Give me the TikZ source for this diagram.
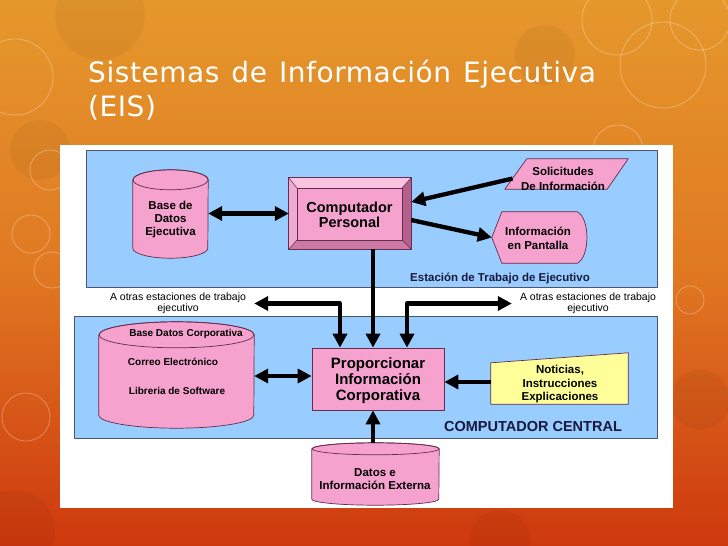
\documentclass[tikz,border=0pt]{standalone}
\usepackage{fontspec}
\setmainfont{Liberation Sans}
\newfontfamily\titlefont[LetterSpace=2]{DejaVu Sans}
\newcommand\titlesetup{\titlefont\fontsize{28}{32}\selectfont\spaceskip 12pt\relax}
\usetikzlibrary{arrows.meta,calc}
\definecolor{bgtop}{RGB}{229,152,44}
\definecolor{bgmid}{RGB}{224,120,34}
\definecolor{bgbot}{RGB}{206,56,14}
\definecolor{bluebox}{RGB}{153,204,255}
\definecolor{boxline}{RGB}{75,85,110}
\definecolor{pinkf}{RGB}{246,162,207}
\definecolor{pinkline}{RGB}{100,45,75}
\definecolor{pinklight}{RGB}{250,196,224}
\definecolor{pinkmid}{RGB}{240,170,210}
\definecolor{pinkdark}{RGB}{205,120,165}
\definecolor{pinkdarker}{RGB}{180,95,140}
\definecolor{yellowf}{RGB}{255,255,153}
\definecolor{navy}{RGB}{25,25,60}
\tikzset{
  tip/.tip={Triangle[length=14pt,width=14pt]},
  bigarrow/.style={line width=4.3pt,-tip},
  dblarrow/.style={line width=4.3pt,tip-tip},
  region/.style={draw=boxline,fill=bluebox,line width=0.8pt,inner sep=0pt},
  pinkshape/.style={draw=pinkline,fill=pinkf,line width=0.7pt},
  lbl/.style={align=center,inner sep=0pt,font=\bfseries\fontsize{11.5}{13.5}\selectfont},
  biglbl/.style={align=center,inner sep=0pt,font=\bfseries\fontsize{14.5}{16}\selectfont},
  smalllbl/.style={align=center,inner sep=0pt,font=\fontsize{10.5}{11.5}\selectfont},
  cyllbl/.style={inner sep=0pt,font=\bfseries\fontsize{10}{12}\selectfont},
  ghost/.style={inner sep=0pt,draw=none},
  ring/.style={draw=white,opacity=0.3,line width=0.8pt},
  blob/.style={fill=black,opacity=0.045},
  titletext/.style={anchor=base west,text=white,inner sep=0pt,font=\titlesetup},
}
\begin{document}
\begin{tikzpicture}[x=1pt,y=-1pt,line join=round]
\useasboundingbox (0,0) rectangle (728,546);
% background
\shade[top color=bgtop,bottom color=bgbot,middle color=bgmid] (0,0) rectangle (728,546);
\fill[blob] (100,15) circle[radius=45];
\fill[blob] (545,55) circle[radius=30];
\fill[blob] (40,150) circle[radius=30];
\fill[blob] (15,530) circle[radius=40];
\fill[blob] (500,540) circle[radius=30];
\fill[blob] (700,400) circle[radius=30];
\draw[ring] (15,77) circle[radius=38];
\draw[ring] (663,65) circle[radius=43];
\draw[ring] (618,150) circle[radius=25];
\draw[ring] (617,20) circle[radius=35];
\draw[ring] (700,20) circle[radius=30];
\draw[ring] (50,170) circle[radius=20];
\draw[ring] (31,234) circle[radius=19];
\draw[ring] (52,270) circle[radius=18];
\draw[ring] (26,417) circle[radius=24];
\draw[ring] (690,300) circle[radius=14];
% title
\node[titletext] (title1) at (88,82) {Sistemas de Información Ejecutiva};
\node[titletext] (title2) at (88,116) {(EIS)};
% panel and regions
\node[fill=white,inner sep=0pt,minimum width=613,minimum height=363,anchor=north west] (panel) at (60,145) {};
\node[region,minimum width=571,minimum height=137] (ws) at (371.5,218.5) {};
\node[region,minimum width=583,minimum height=122] (cc) at (365.5,377) {};
% cylinder: base de datos ejecutiva
\node[ghost,minimum width=75,minimum height=88] (bde) at (170.5,214) {};
\filldraw[pinkshape] ($(bde.north west)+(0,10)$) -- ($(bde.south west)+(0,-10)$)
  arc[start angle=180,end angle=0,x radius=37.5,y radius=10]
  -- ($(bde.north east)+(0,10)$)
  arc[start angle=0,end angle=-180,x radius=37.5,y radius=10] -- cycle;
\draw[pinkline,line width=0.7pt] ($(bde.north)+(0,10)$) ellipse[x radius=37.5,y radius=10];
\node[lbl,font=\bfseries\fontsize{11.5}{13}\selectfont] (bdet) at (170.5,220) {Base de\\Datos\\Ejecutiva};
% computador personal (bevelled)
\node[ghost,minimum width=122,minimum height=71] (cp) at (350,213.5) {};
\coordinate (ia) at ($(cp.north west)+(8,10)$);
\coordinate (ib) at ($(cp.north east)+(-9,10)$);
\coordinate (ic) at ($(cp.south east)+(-9,-9)$);
\coordinate (id) at ($(cp.south west)+(8,-9)$);
\fill[pinklight] (cp.north west) -- (cp.north east) -- (ib) -- (ia) -- cycle;
\fill[pinkmid] (cp.north west) -- (ia) -- (id) -- (cp.south west) -- cycle;
\fill[pinkdark] (cp.south west) -- (id) -- (ic) -- (cp.south east) -- cycle;
\fill[pinkdarker] (cp.north east) -- (ib) -- (ic) -- (cp.south east) -- cycle;
\fill[pinkf] (ia) rectangle (ic);
\draw[pinkline,line width=0.7pt] (cp.north west) rectangle (cp.south east);
\draw[pinkline,line width=0.5pt] (ia) rectangle (ic);
\draw[pinkline,line width=0.5pt] (cp.north west) -- (ia) (cp.north east) -- (ib) (cp.south east) -- (ic) (cp.south west) -- (id);
\node[biglbl,font=\bfseries\fontsize{14.5}{15.5}\selectfont] (cpt) at (349.5,215) {Computador\\Personal};
% solicitudes
\node[ghost,minimum width=123,minimum height=30] (sol) at (566.5,174) {};
\filldraw[pinkshape] (sol.south west) -- ($(sol.south east)+(-21,0)$) -- (sol.north east) -- ($(sol.north west)+(22,0)$) -- cycle;
\node[lbl,font=\bfseries\fontsize{11.5}{14.5}\selectfont] (solt) at (563,179) {Solicitudes\\De Información};
% informacion en pantalla
\node[ghost,minimum width=95,minimum height=51] (pan) at (539.5,237.5) {};
\filldraw[pinkshape] (pan.west) -- ($(pan.north west)+(10,0)$) -- ($(pan.north east)+(-10,0)$)
  .. controls ($(pan.north east)+(3,6)$) and ($(pan.south east)+(3,-6)$) .. ($(pan.south east)+(-10,0)$)
  -- ($(pan.south west)+(10,0)$) -- cycle;
\node[lbl,font=\bfseries\fontsize{11.5}{14}\selectfont] (pant) at (538,238) {Información\\en Pantalla};
\node[lbl,text=navy] (est) at (500,278) {Estación de Trabajo de Ejecutivo};
% side labels
\node[smalllbl] (otL) at (178,303.5) {A otras estaciones de trabajo\\ejecutivo};
\node[smalllbl] (otR) at (588,303.5) {A otras estaciones de trabajo\\ejecutivo};
% proporcionar
\node[pinkshape,inner sep=0pt,minimum width=132,minimum height=62] (prop) at (378,379) {};
\node[biglbl,font=\bfseries\fontsize{15}{16}\selectfont] (propt) at (378,381) {Proporcionar\\Información\\Corporativa};
% big cylinder
\node[ghost,minimum width=155,minimum height=106] (bdc) at (176.5,375) {};
\filldraw[pinkshape] ($(bdc.north west)+(0,13)$) -- ($(bdc.south west)+(0,-13)$)
  arc[start angle=180,end angle=0,x radius=77.5,y radius=13]
  -- ($(bdc.north east)+(0,13)$)
  arc[start angle=0,end angle=-180,x radius=77.5,y radius=13] -- cycle;
\draw[pinkline,line width=0.7pt] ($(bdc.north)+(0,13)$) ellipse[x radius=77.5,y radius=13];
\node[cyllbl] (bdc1) at (186,334) {Base Datos Corporativa};
\node[cyllbl] (bdc2) at (173,362) {Correo Electrónico};
\node[cyllbl] (bdc3) at (177,391) {Libreria de Software};
% noticias
\node[ghost,minimum width=137,minimum height=51] (notb) at (559.5,378.5) {};
\filldraw[draw=pinkline,fill=yellowf,line width=0.7pt] (notb.south west) -- (notb.south east) -- (notb.north east) -- ($(notb.north west)+(0,10)$) -- cycle;
\node[lbl,font=\bfseries\fontsize{11.5}{13.5}\selectfont] (nott) at (560,384.5) {Noticias,\\Instrucciones\\Explicaciones};
\node[biglbl,text=navy] (cct) at (533,427) {COMPUTADOR CENTRAL};
% datos externa
\node[ghost,minimum width=127,minimum height=62] (dat) at (375.5,474) {};
\filldraw[pinkshape] ($(dat.north west)+(0,6)$) -- ($(dat.south west)+(0,-6)$)
  arc[start angle=180,end angle=0,x radius=63.5,y radius=6]
  -- ($(dat.north east)+(0,6)$)
  arc[start angle=0,end angle=-180,x radius=63.5,y radius=6] -- cycle;
\draw[pinkline,line width=0.7pt] ($(dat.north)+(0,6)$) ellipse[x radius=63.5,y radius=6];
\node[lbl,font=\bfseries\fontsize{11.5}{12.5}\selectfont] (datt) at (375,479) {Datos e\\Información Externa};
% connectors
\draw[dblarrow] (bde.east |- cp.west) -- (cp.west);
\draw[bigarrow] ($(sol.south west)!0.35!($(sol.north west)+(22,0)$)$) -- ([yshift=11.5pt]cp.east);
\draw[bigarrow] ([yshift=-6.5pt]cp.east) -- (pan.west);
\draw[bigarrow] ([xshift=23pt]cp.south) -- ([xshift=-5pt]prop.north);
\draw[dblarrow] ([xshift=8pt]otL.east) -| ([xshift=-38pt]prop.north);
\draw[dblarrow] ([xshift=-8pt]otR.west) -| ([xshift=29pt]prop.north);
\draw[dblarrow] (bdc.east |- prop.west) ++(0,-3) coordinate (bdcE) -- ([yshift=3pt]prop.west);
\draw[bigarrow] (notb.west |- 0,382) coordinate (notW) -- (prop.east |- notW);
\draw[bigarrow] ([xshift=-2.5pt]dat.north) -- ([xshift=-5pt]prop.south);
\end{tikzpicture}
\end{document}
